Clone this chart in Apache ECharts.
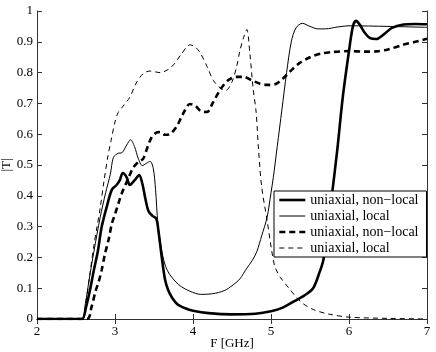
<!DOCTYPE html>
<html>
<head>
<meta charset="utf-8">
<script src="https://cdn.jsdelivr.net/npm/echarts@6/dist/echarts.min.js"></script>
<style>
	html, body { margin: 0; padding: 0; background: #fff; }
	#chart { width: 436px; height: 352px; }
</style>
</head>
<body>
<div id="chart"></div>
<script>
// frequency (GHz) / |T| pairs
const nonLocalSolid = [
	[2, 0], [2.5, 0], [2.58, 0], [2.63, 0.04], [2.68, 0.095], [2.73, 0.16], [2.78, 0.22], [2.83, 0.3],
	[2.9, 0.37], [2.96, 0.42], [3.02, 0.435], [3.06, 0.45], [3.1, 0.474], [3.15, 0.46], [3.19, 0.435],
	[3.25, 0.45], [3.31, 0.467], [3.35, 0.44], [3.39, 0.39], [3.43, 0.35], [3.48, 0.335], [3.53, 0.325],
	[3.56, 0.28], [3.6, 0.2], [3.64, 0.13], [3.68, 0.095], [3.73, 0.07], [3.8, 0.048], [3.9, 0.035],
	[4.0, 0.027], [4.2, 0.019], [4.5, 0.015], [4.8, 0.017], [5.0, 0.025], [5.15, 0.037], [5.3, 0.058],
	[5.42, 0.075], [5.54, 0.1], [5.62, 0.15], [5.67, 0.19], [5.72, 0.28], [5.78, 0.4], [5.85, 0.55],
	[5.92, 0.72], [6.0, 0.87], [6.05, 0.95], [6.09, 0.968], [6.14, 0.955], [6.2, 0.93], [6.27, 0.912],
	[6.35, 0.909], [6.45, 0.925], [6.55, 0.945], [6.7, 0.956], [6.85, 0.958], [7, 0.957]
];
const localSolid = [
	[2, 0], [2.57, 0], [2.62, 0.05], [2.67, 0.13], [2.73, 0.22], [2.81, 0.33], [2.88, 0.41], [2.94, 0.47],
	[2.98, 0.525], [3.04, 0.538], [3.09, 0.54], [3.15, 0.565], [3.2, 0.582], [3.25, 0.56], [3.3, 0.52],
	[3.35, 0.498], [3.4, 0.505], [3.45, 0.512], [3.49, 0.49], [3.52, 0.42], [3.55, 0.31], [3.6, 0.22],
	[3.65, 0.17], [3.7, 0.145], [3.78, 0.12], [3.85, 0.105], [3.96, 0.09], [4.1, 0.08], [4.25, 0.082],
	[4.4, 0.092], [4.5, 0.108], [4.6, 0.13], [4.69, 0.165], [4.76, 0.19], [4.82, 0.22], [4.88, 0.27],
	[4.95, 0.33], [5.0, 0.41], [5.03, 0.46], [5.08, 0.56], [5.14, 0.68], [5.2, 0.8], [5.26, 0.9],
	[5.32, 0.945], [5.4, 0.96], [5.5, 0.95], [5.6, 0.942], [5.7, 0.942], [5.85, 0.948], [6.0, 0.952],
	[6.5, 0.95], [7, 0.947]
];
const nonLocalDashed = [
	[2, 0], [2.64, 0], [2.7, 0.04], [2.75, 0.09], [2.79, 0.12], [2.83, 0.16], [2.87, 0.21], [2.92, 0.26],
	[2.96, 0.31], [3.0, 0.34], [3.05, 0.38], [3.09, 0.41], [3.16, 0.45], [3.23, 0.49], [3.3, 0.51],
	[3.36, 0.52], [3.42, 0.56], [3.47, 0.59], [3.53, 0.605], [3.58, 0.607], [3.64, 0.598], [3.7, 0.6],
	[3.79, 0.625], [3.87, 0.665], [3.96, 0.698], [4.03, 0.692], [4.1, 0.675], [4.18, 0.672], [4.25, 0.7],
	[4.35, 0.745], [4.45, 0.775], [4.55, 0.786], [4.65, 0.786], [4.75, 0.775], [4.85, 0.765], [4.95, 0.76],
	[5.06, 0.763], [5.15, 0.78], [5.25, 0.805], [5.36, 0.83], [5.5, 0.85], [5.65, 0.862], [5.8, 0.867],
	[6.0, 0.87], [6.2, 0.868], [6.35, 0.869], [6.5, 0.875], [6.69, 0.89], [6.85, 0.9], [7, 0.91]
];
const localDashed = [
	[2, 0], [2.58, 0], [2.63, 0.06], [2.68, 0.15], [2.73, 0.24], [2.77, 0.3], [2.81, 0.36], [2.86, 0.45],
	[2.91, 0.53], [2.95, 0.58], [3.0, 0.64], [3.04, 0.67], [3.1, 0.69], [3.19, 0.72], [3.26, 0.76],
	[3.32, 0.785], [3.38, 0.8], [3.45, 0.805], [3.58, 0.8], [3.68, 0.81], [3.75, 0.825], [3.85, 0.86],
	[3.96, 0.89], [4.02, 0.885], [4.09, 0.865], [4.18, 0.82], [4.26, 0.775], [4.35, 0.75], [4.42, 0.742],
	[4.5, 0.77], [4.56, 0.82], [4.6, 0.87], [4.65, 0.915], [4.69, 0.94], [4.73, 0.86], [4.77, 0.75],
	[4.81, 0.67], [4.84, 0.55], [4.88, 0.43], [4.95, 0.32], [5.01, 0.22], [5.05, 0.17], [5.12, 0.135],
	[5.23, 0.1], [5.32, 0.072], [5.41, 0.05], [5.55, 0.03], [5.74, 0.016], [6.0, 0.006], [6.5, 0.002], [7, 0]
];
const legendNames = ['uniaxial, non\u2212local', 'uniaxial, local', 'uniaxial, non\u2212local', 'uniaxial, local'];

const font = 'Liberation Serif';
var chartDom = document.getElementById('chart');
var myChart = echarts.init(chartDom);
var option;

const mkLine = (id, data, width, dash) => ({
	name: id,
	type: 'line',
	data: data,
	symbol: 'none',
	smooth: 0.3,
	z: 3,
	itemStyle: { color: '#000' },
	lineStyle: { color: '#000', width: width, type: dash }
});

option = {
	animation: false,
	backgroundColor: '#fff',
	textStyle: { fontFamily: font },
	grid: { left: 37, right: 9, top: 11, bottom: 33, containLabel: false, outerBoundsMode: 'none' },
	legend: {
		orient: 'vertical',
		left: 274,
		top: 191,
		padding: [2, 8, 2, 4],
		itemGap: 2,
		itemWidth: 26,
		itemHeight: 14,
		backgroundColor: '#fff',
		borderColor: '#000',
		borderWidth: 1,
		borderRadius: 0,
		// hide the circle marker, keep the line sample with the series' own width
		itemStyle: { opacity: 0 },
		lineStyle: { width: 'inherit' },
		data: ['s0', 's1', 's2', 's3'],
		formatter: function (name) { return legendNames[+name.slice(1)]; },
		textStyle: { fontFamily: font, fontSize: 14, color: '#000' }
	},
	xAxis: [
		{
			type: 'value', min: 2, max: 7, interval: 1,
			name: 'F [GHz]', nameLocation: 'middle', nameGap: 18, nameMoveOverlap: false,
			nameTextStyle: { fontFamily: font, fontSize: 13, color: '#000' },
			axisLine: { lineStyle: { color: '#333', width: 1 } },
			axisTick: { inside: true, length: 5, lineStyle: { color: '#333' } },
			axisLabel: { fontFamily: font, fontSize: 13, color: '#000', margin: 6 },
			splitLine: { show: false }
		},
		{
			type: 'value', min: 2, max: 7, interval: 1, position: 'top',
			axisLine: { lineStyle: { color: '#333', width: 1 } },
			axisTick: { inside: true, length: 5, lineStyle: { color: '#333' } },
			axisLabel: { show: false },
			splitLine: { show: false }
		}
	],
	yAxis: [
		{
			type: 'value', min: 0, max: 1, interval: 0.1,
			name: '|T|', nameLocation: 'middle', nameGap: 24, nameMoveOverlap: false,
			nameTextStyle: { fontFamily: font, fontSize: 13, color: '#000' },
			axisLine: { show: true, lineStyle: { color: '#333', width: 1 } },
			axisTick: { show: true, inside: true, length: 5, lineStyle: { color: '#333' } },
			axisLabel: { fontFamily: font, fontSize: 13, color: '#000', margin: 4 },
			splitLine: { show: false }
		},
		{
			type: 'value', min: 0, max: 1, interval: 0.1, position: 'right',
			axisLine: { show: true, lineStyle: { color: '#333', width: 1 } },
			axisTick: { show: true, inside: true, length: 5, lineStyle: { color: '#333' } },
			axisLabel: { show: false },
			splitLine: { show: false }
		}
	],
	series: [
		mkLine('s0', nonLocalSolid, 2.6, 'solid'),
		mkLine('s1', localSolid, 1, 'solid'),
		mkLine('s2', nonLocalDashed, 2.6, [6, 4]),
		mkLine('s3', localDashed, 1, [5, 4])
	]
};

option && myChart.setOption(option);
</script>
</body>
</html>
